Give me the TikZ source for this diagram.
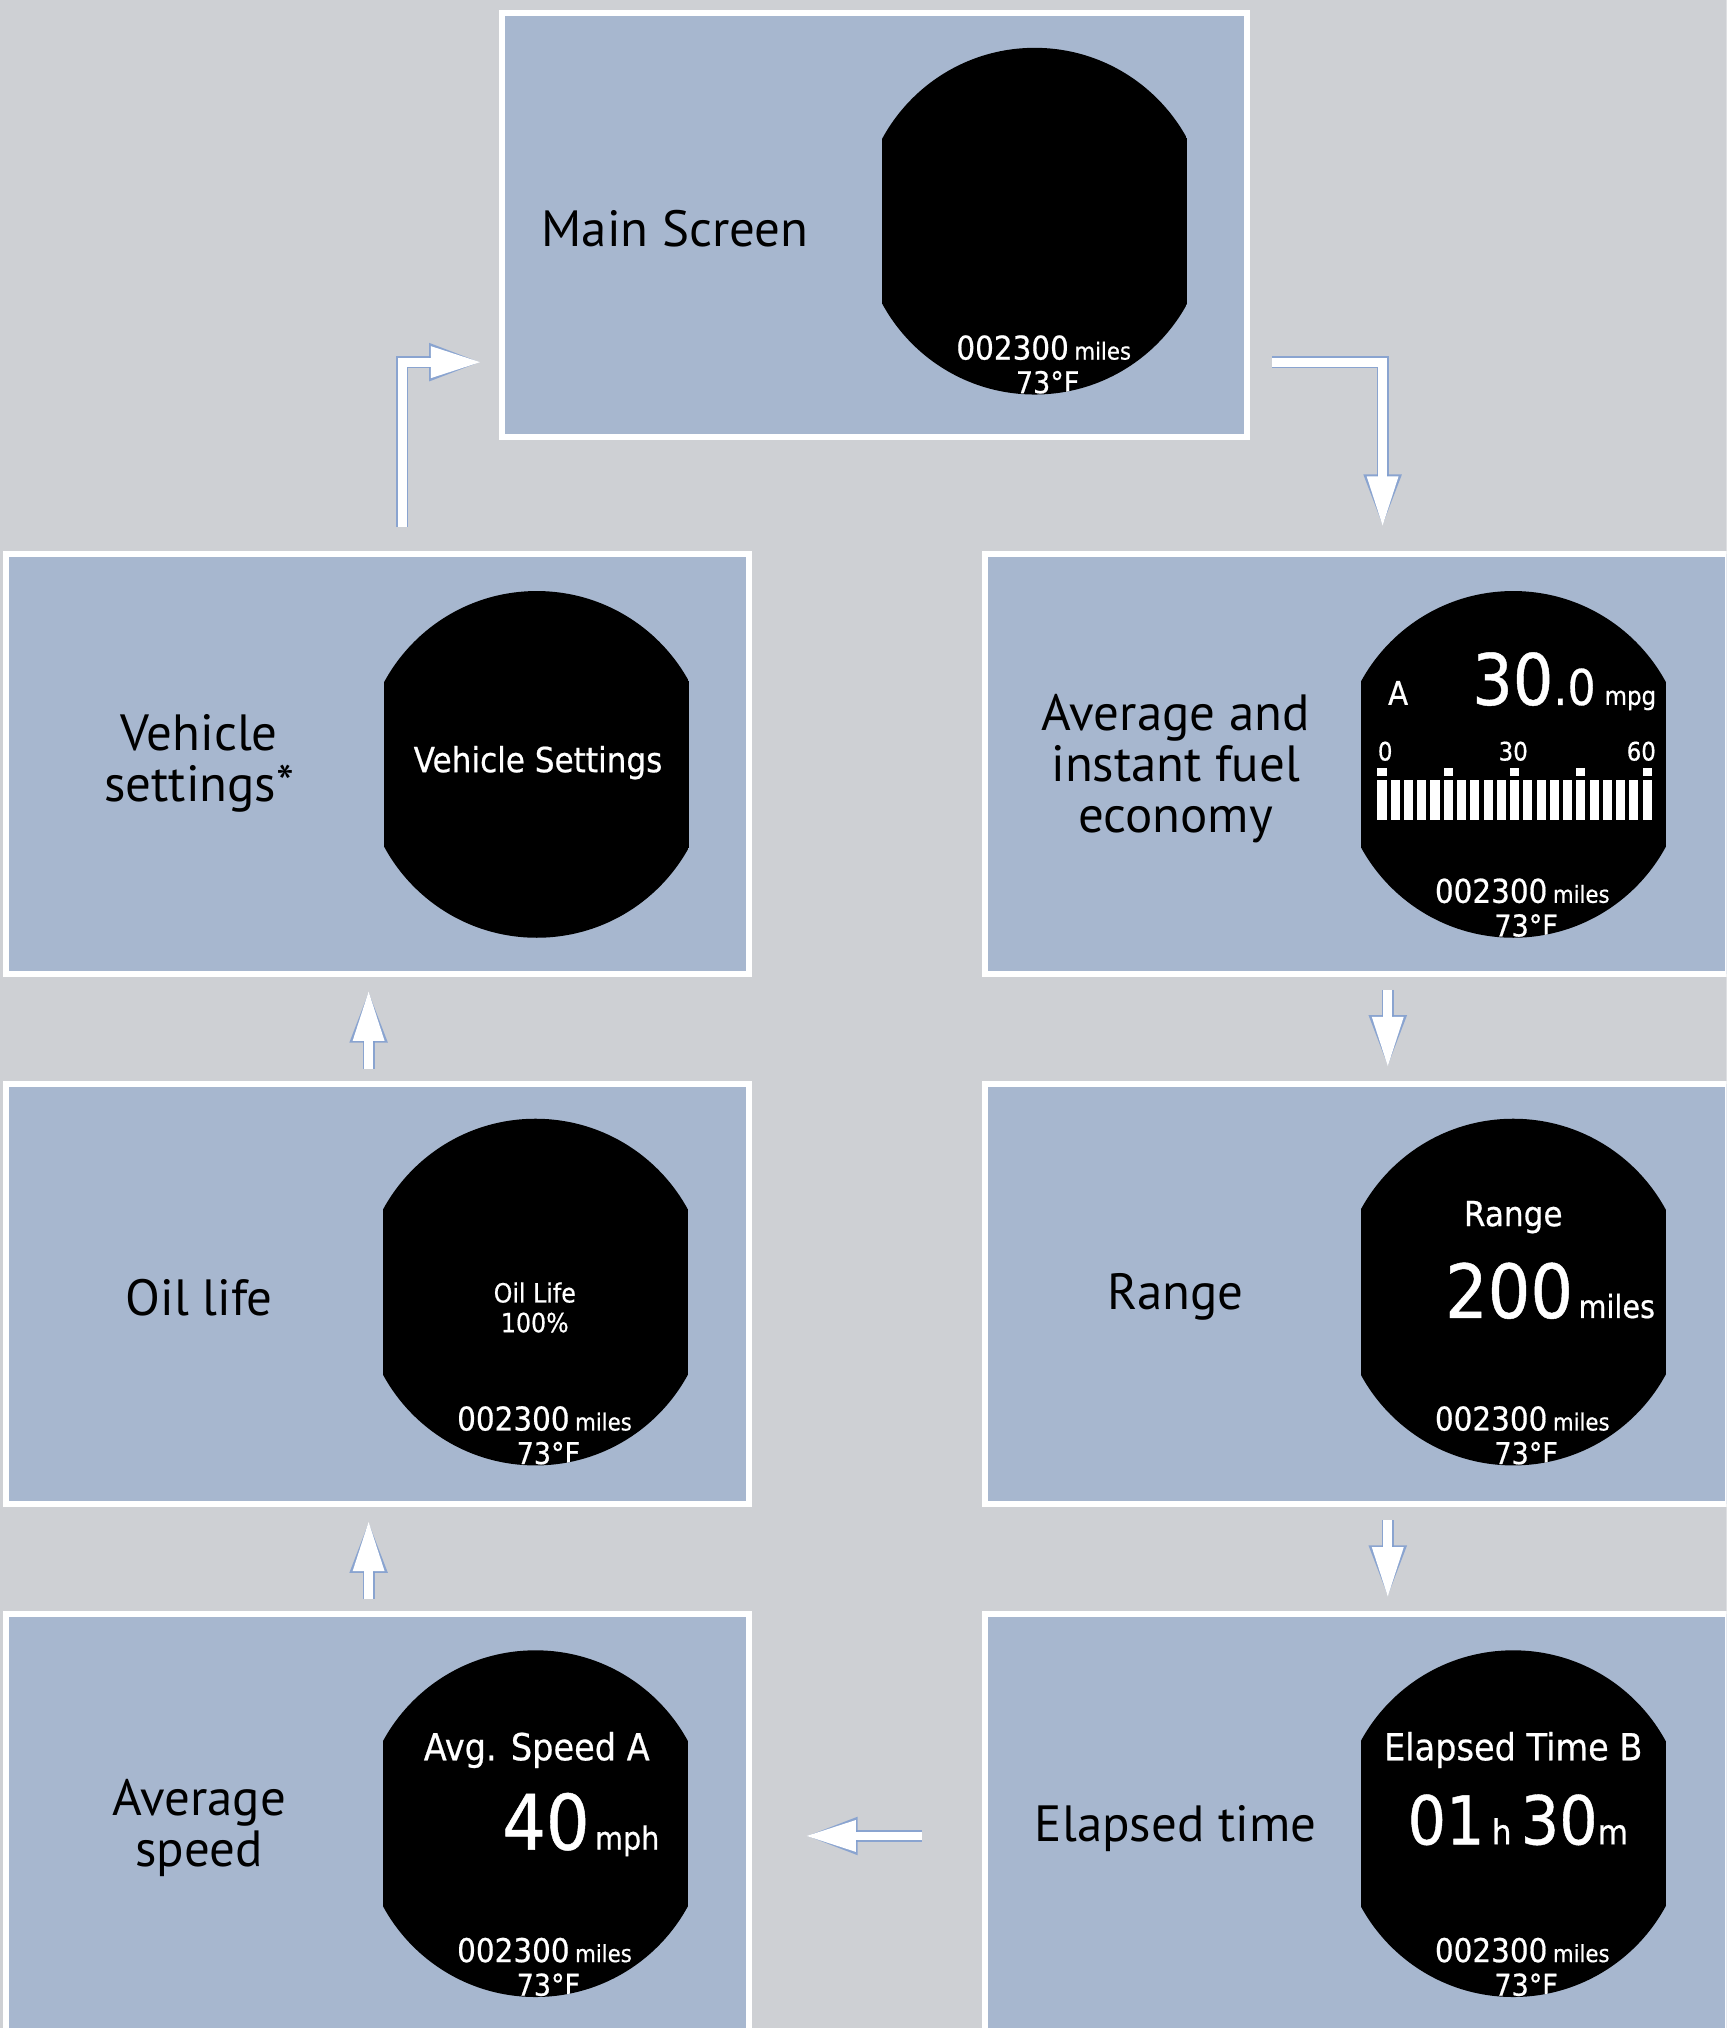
\documentclass[tikz,border=0pt]{standalone}
\usepackage{fontspec}
\setmainfont{PT Sans}
\newfontfamily\lcd{DejaVu Sans}[FakeStretch=0.9, FakeBold=0.6]
\usetikzlibrary{arrows.meta}
\definecolor{pagegray}{HTML}{CED0D4}
\definecolor{panelblue}{HTML}{A7B7CF}
\definecolor{glow}{HTML}{7F9DD0}
\tikzset{
  panel/.style={draw=white, line width=3.3pt, fill=panelblue,
    minimum width=14.35cm, minimum height=8.125cm, inner sep=0pt},
  caption/.style={font=\fontsize{28}{28}\selectfont, align=center, inner sep=0pt},
  flow/.style={white, line width=4.8pt, -{Triangle[length=28pt,width=16pt]},
    preaction={draw=glow, opacity=0.85, line width=6.6pt, -{Triangle[length=29pt,width=19pt]}}},
  lcdtxt/.style={text=white, inner sep=0pt, anchor=base, font=\lcd},
}
\newcommand{\lcdsize}[1]{\fontsize{#1}{#1}\selectfont}
% round display, cut flat at the sides
\newcommand{\screen}[1]{%
  \clip (#1) circle[radius=3.35cm];
  \clip ([shift={(-118,-140)}]#1) rectangle ([shift={(118,140)}]#1);
  \fill[black] ([shift={(-118,-140)}]#1) rectangle ([shift={(118,140)}]#1);}
\newcommand{\odometer}[1]{%
  \node[lcdtxt] at ([shift={(7,107)}]#1) {\lcdsize{18}002300\hspace{3pt}{\lcdsize{13}miles}};
  \node[lcdtxt] at ([shift={(10,133)}]#1) {\lcdsize{16.5}73°F};}

\begin{document}
\begin{tikzpicture}[x=0.025cm, y=-0.025cm]
  \useasboundingbox (0,0) rectangle (1335,1568);
  \clip (0,0) rectangle (1335,1568);
  \fill[pagegray] (0,0) rectangle (1335,1568);

  % panels
  \node[panel, minimum width=14.4cm, minimum height=8.2cm] (main) at (676,174) {};
  \node[panel] (vset) at (292,590.5) {};
  \node[panel] (fuel) at (1049,590.5) {};
  \node[panel] (oil) at (292,1000.5) {};
  \node[panel] (range) at (1049,1000.5) {};
  \node[panel] (avgspd) at (292,1410.5) {};
  \node[panel] (elapsed) at (1049,1410.5) {};

  \node[caption] at (522,177) {Main Screen};
  \node[caption] at (154,590) {Vehicle\\settings*};
  \node[caption] at (909,594) {Average and\\instant fuel\\economy};
  \node[caption] at (154,1003) {Oil life};
  \node[caption] at (909,1003) {Range};
  \node[caption] at (154,1413) {Average\\speed};
  \node[caption] at (909,1414) {Elapsed time};

  \coordinate (s-main) at (800,171);
  \coordinate (s-vset) at (415,591);
  \coordinate (s-fuel) at (1170,591);
  \coordinate (s-oil) at (414,999);
  \coordinate (s-range) at (1170,999);
  \coordinate (s-avgspd) at (414,1410);
  \coordinate (s-elapsed) at (1170,1410);

  \begin{scope}
    \screen{s-main}
    \odometer{s-main}
  \end{scope}
  \begin{scope}
    \screen{s-vset}
    \node[lcdtxt] at ([shift={(1,6)}]s-vset) {\lcdsize{19}Vehicle Settings};
  \end{scope}
  \begin{scope}
    \screen{s-fuel}
    \odometer{s-fuel}
    \node[lcdtxt] at ([shift={(-89,-46)}]s-fuel) {\lcdsize{18}A};
    \node[lcdtxt, anchor=base west] at ([shift={(-32,-46)}]s-fuel)
      {\lcdsize{39}30{\lcdsize{27}.0}\hspace{5pt}{\lcdsize{14}mpg}};
    \node[lcdtxt] at ([shift={(-99,-3)}]s-fuel) {\lcdsize{14}0};
    \node[lcdtxt] at ([shift={(0,-3)}]s-fuel) {\lcdsize{14}30};
    \node[lcdtxt] at ([shift={(99,-3)}]s-fuel) {\lcdsize{14}60};
    \foreach \i in {0,...,20}
      \fill[white] ([shift={(-105+10.25*\i,12)}]s-fuel) rectangle ++(7,31);
    \foreach \i in {0,5,...,20}
      \fill[white] ([shift={(-105+10.25*\i,3)}]s-fuel) rectangle ++(7,6);
  \end{scope}
  \begin{scope}
    \screen{s-oil}
    \odometer{s-oil}
    \node[lcdtxt] at ([shift={(-0.5,8)}]s-oil) {\lcdsize{14.5}Oil Life};
    \node[lcdtxt] at ([shift={(-0.5,31)}]s-oil) {\lcdsize{14.5}100\%};
  \end{scope}
  \begin{scope}
    \screen{s-range}
    \odometer{s-range}
    \node[lcdtxt] at ([shift={(0,-51)}]s-range) {\lcdsize{19}Range};
    \node[lcdtxt, anchor=base west] at ([shift={(-53,20)}]s-range)
      {\lcdsize{41}200\hspace{3pt}{\lcdsize{17.5}miles}};
  \end{scope}
  \begin{scope}
    \screen{s-avgspd}
    \odometer{s-avgspd}
    \node[lcdtxt] at ([shift={(1,-49)}]s-avgspd) {\lcdsize{20.5}Avg. Speed A};
    \node[lcdtxt, anchor=base west] at ([shift={(-26,20)}]s-avgspd)
      {\lcdsize{42}40\hspace{3pt}{\lcdsize{17.5}mph}};
  \end{scope}
  \begin{scope}
    \screen{s-elapsed}
    \odometer{s-elapsed}
    \node[lcdtxt] at ([shift={(0,-49)}]s-elapsed) {\lcdsize{20.5}Elapsed Time B};
    \node[lcdtxt, anchor=base west] at ([shift={(-82,16)}]s-elapsed)
      {\lcdsize{37}01\hspace{4pt}{\lcdsize{19}h}\hspace{5pt}{\lcdsize{37}30}{\lcdsize{19}m}};
  \end{scope}

  % arrows
  \draw[flow] ([shift={(19,-18)}]vset.north) |- ([shift={(-13,106)}]main.west);
  \draw[flow] ([shift={(17,106)}]main.east) -| ([shift={(20,-18)}]fuel.north);
  \draw[flow] ([shift={(24,10)}]fuel.south) -- ([shift={(24,-10)}]range.north);
  \draw[flow] ([shift={(24,10)}]range.south) -- ([shift={(24,-10)}]elapsed.north);
  \draw[flow] ([shift={(-7,-9)}]oil.north) -- ([shift={(-7,10)}]vset.south);
  \draw[flow] ([shift={(-7,-9)}]avgspd.north) -- ([shift={(-7,10)}]oil.south);
  \draw[flow] ([shift={(-47,9)}]elapsed.west) -- ([shift={(41,9)}]avgspd.east);
\end{tikzpicture}
\end{document}
